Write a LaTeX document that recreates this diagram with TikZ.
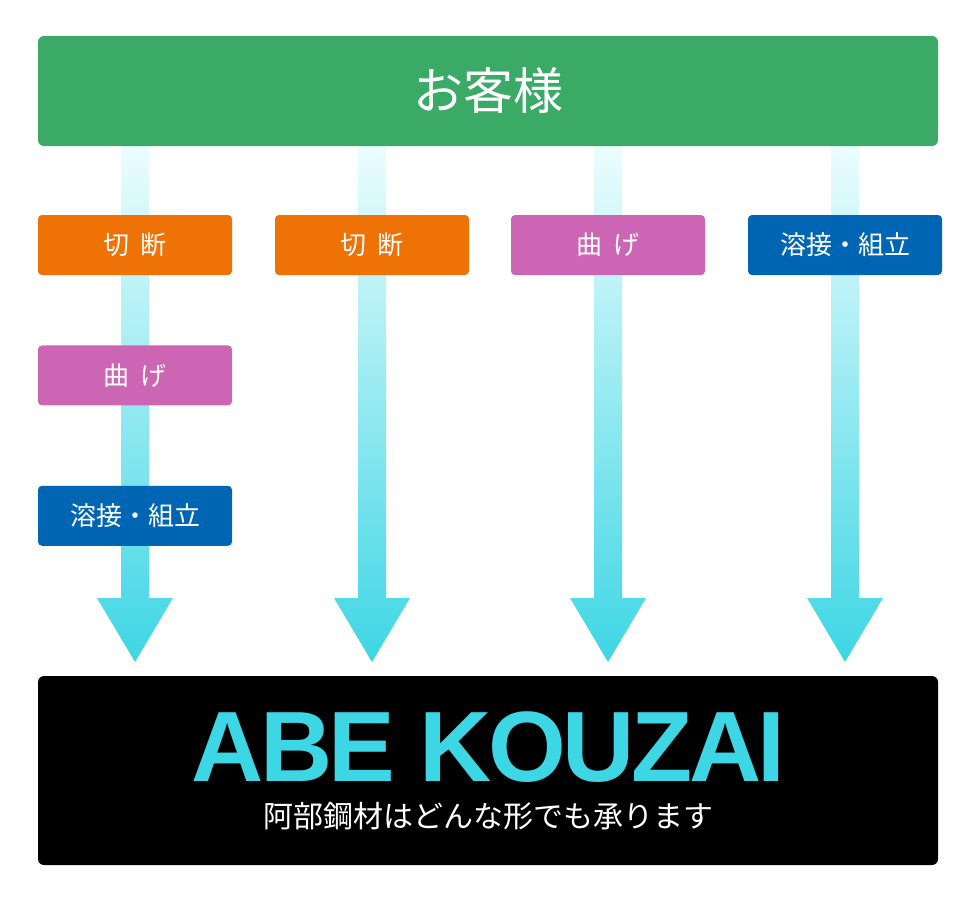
\documentclass[tikz,border=0pt]{standalone}
\usepackage{fontspec}
\setmainfont{Liberation Sans}
\newfontfamily\jpfont{Noto Sans CJK JP}
\usepackage{xcolor}
\usepackage{tikz}
\usetikzlibrary{positioning}

\definecolor{custgreen}{RGB}{58,170,102}
\definecolor{cutorange}{RGB}{238,114,6}
\definecolor{bendpink}{RGB}{204,102,180}
\definecolor{weldblue}{RGB}{0,102,179}
\definecolor{flowlight}{RGB}{236,253,254}
\definecolor{flowcyan}{RGB}{61,214,228}

\newcommand{\gap}{\hspace{12pt}}

\begin{document}
\begin{tikzpicture}[
    x=1pt, y=-1pt,
    every node/.style={inner sep=0pt, align=center},
    custbox/.style={fill=custgreen, rounded corners=6pt, minimum width=900pt, minimum height=110pt, text=white, font=\jpfont\fontsize{50}{50}\selectfont},
    stepbox/.style={rounded corners=4pt, minimum width=194pt, minimum height=60pt, text=white, font=\jpfont\fontsize{26}{26}\selectfont},
    cutbox/.style={stepbox, fill=cutorange},
    bendbox/.style={stepbox, fill=bendpink},
    weldbox/.style={stepbox, fill=weldblue},
    basebox/.style={fill=black, rounded corners=6pt, minimum width=900pt, minimum height=189pt},
    flow/.style={top color=flowlight, bottom color=flowcyan}
]

\fill[white] (0,0) rectangle (980,900);

% arrows behind the boxes
\foreach \x in {135,372,608,845}
    \shade[flow] (\x-14,146) -- (\x+14,146) -- (\x+14,598) -- (\x+38,598)
        -- (\x,662) -- (\x-38,598) -- (\x-14,598) -- cycle;

\node[custbox] (cust) at (488,91) {お客様};

% column 1
\node[cutbox] (c1cut) at (135,245) {切\gap 断};
\node[bendbox, below=70pt of c1cut] (c1bend) {曲\gap げ};
\node[weldbox, below=80pt of c1bend] (c1weld) {溶接・組立};

% columns 2-4
\node[cutbox] (c2cut) at (372,245) {切\gap 断};
\node[bendbox] (c3bend) at (608,245) {曲\gap げ};
\node[weldbox] (c4weld) at (845,245) {溶接・組立};

\node[basebox] (base) at (488,770.5) {};
\node[text=flowcyan, font=\bfseries\fontsize{100}{100}\selectfont\addfontfeature{LetterSpace=-3.5}] (logo) at (488.5,747) {ABE KOUZAI};
\node[text=white, font=\jpfont\fontsize{30}{30}\selectfont] (motto) at (488,816) {阿部鋼材はどんな形でも承ります};

\end{tikzpicture}
\end{document}
